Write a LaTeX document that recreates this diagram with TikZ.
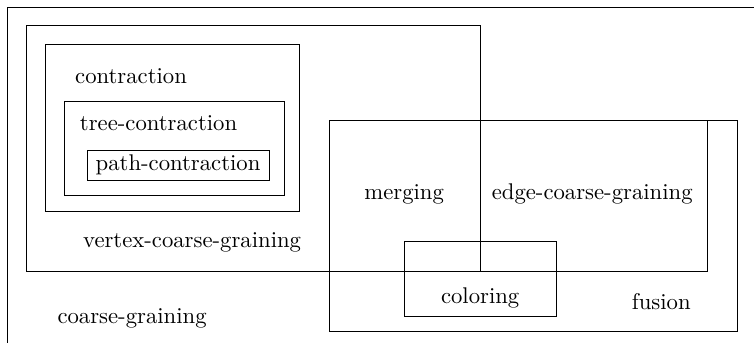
\documentclass[tikz,border=0pt]{standalone}
\begin{document}
\begin{tikzpicture}
          \useasboundingbox (0,0) rectangle (11.67,5.295);
          \clip (0,0) rectangle (11.67,5.295);
          \draw (0.108,-1) rectangle (12.5,5.187); % coarse-graining
          \draw (0.403,1.099) rectangle (7.432,4.908); % vertex
          \draw (0.697,2.028) rectangle (4.629,4.614); % contraction
          \draw (0.991,2.276) rectangle (4.397,3.731); % tree
          \draw (1.347,2.508) rectangle (4.165,2.973); % path
          \draw (5.094,1.099) rectangle (10.947,3.437); % edge
          \draw (5.094,0.170) rectangle (11.411,3.437); % fusion
          \draw (6.255,0.403) rectangle (8.609,1.564); % coloring
          \node (contr) at (2.028,4.119) {contraction};
          \node (tree) at (2.454,3.391) {tree-contraction};
          \node (path) at (2.756,2.740) {path-contraction};
          \node (vertex) at (2.973,1.548) {vertex-coarse-graining};
          \node (cg) at (2.044,0.372) {coarse-graining};
          \node (merg) at (6.255,2.291) {merging};
          \node (edge) at (9.166,2.291) {edge-coarse-graining};
          \node (col) at (7.432,0.681) {coloring};
          \node (fus) at (10.234,0.619) {fusion};
        \end{tikzpicture}
\end{document}
